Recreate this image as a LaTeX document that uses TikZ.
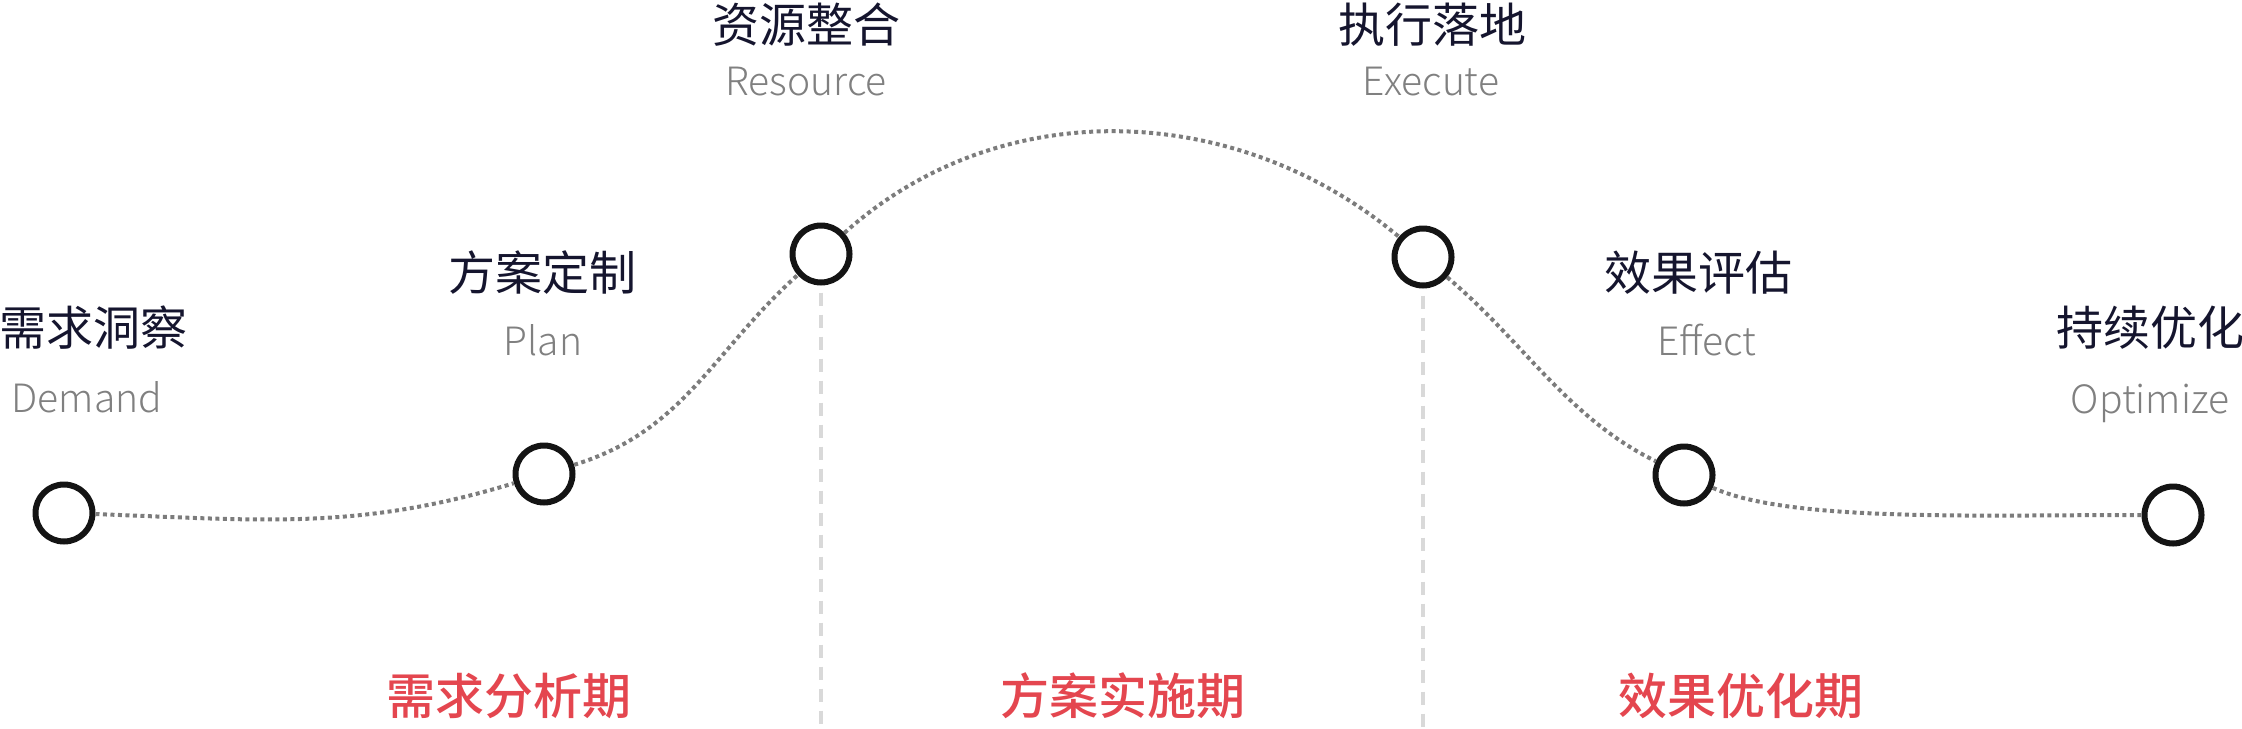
\documentclass[tikz,border=0pt]{standalone}
\usepackage{fontspec}
\setmainfont{Noto Sans CJK SC}
\newfontfamily\cjk{Noto Sans CJK SC}
\newfontfamily\cjklight{Noto Sans CJK SC Light}
\newfontfamily\cjkmed{Noto Sans CJK SC Medium}
\definecolor{inkblue}{HTML}{15152E}
\definecolor{subgray}{HTML}{808080}
\definecolor{phasered}{HTML}{E4464F}
\definecolor{trailgray}{HTML}{7C7C7C}
\definecolor{divgray}{HTML}{D9D9D9}
\begin{document}
\begin{tikzpicture}[x=0.5pt,y=-0.5pt,line join=round,
  stage/.style={circle,draw=black!92,fill=white,line width=3pt,minimum size=28.5pt,inner sep=0pt},
  ttl/.style={anchor=base,text=inkblue,inner sep=0pt,font=\cjk\fontsize{23.5pt}{28pt}\selectfont},
  sub/.style={anchor=base,text=subgray,inner sep=0pt,font=\cjklight\fontsize{19.5pt}{24pt}\selectfont},
  phase/.style={anchor=base,text=phasered,inner sep=0pt,font=\cjkmed\fontsize{24.5pt}{29pt}\selectfont},
  trail/.style={draw=trailgray,line width=2pt,dash pattern=on 2pt off 1.75pt},
  divider/.style={draw=divgray,line width=1.6pt,dash pattern=on 6.5pt off 4.5pt}]
\useasboundingbox (0,0) rectangle (2242,728);
\node[stage] (c1) at (64,513) {};
\node[stage] (c2) at (544,474) {};
\node[stage] (c3) at (821,254) {};
\node[stage] (c4) at (1423,257) {};
\node[stage] (c5) at (1684,475) {};
\node[stage] (c6) at (2173,515) {};
\coordinate (b3) at (821,728);
\coordinate (b4) at (1423,728);
\draw[divider] ([yshift=-3.5pt]c3.south) -- (b3);
\draw[divider] ([yshift=-3.5pt]c4.south) -- (b4);
\draw[trail] (c1) to[out=-2,in=197] (c2) to[out=17,in=222] (c3)
  to[out=42,in=140,looseness=0.97] (c4) to[out=-40,in=154,looseness=0.9] (c5)
  to[out=-24,in=180,out looseness=0.5] (c6);
\node[ttl] (t1) at (93,345) {需求洞察};
\node[sub] (e1) at (87,412) {Demand};
\node[ttl] (t2) at (542,290) {方案定制};
\node[sub] (e2) at (543,355) {Plan};
\node[ttl] (t3) at (806,42) {资源整合};
\node[sub] (e3) at (806,95) {Resource};
\node[ttl] (t4) at (1432,42) {执行落地};
\node[sub] (e4) at (1431,95) {Execute};
\node[ttl] (t5) at (1698,290) {效果评估};
\node[sub] (e5) at (1707,355) {Effect};
\node[ttl] (t6) at (2150,345) {持续优化};
\node[sub] (e6) at (2150,413) {Optimize};
\node[phase] (p1) at (509,714) {需求分析期};
\node[phase] (p2) at (1123,714) {方案实施期};
\node[phase] (p3) at (1741,714) {效果优化期};
\end{tikzpicture}
\end{document}
